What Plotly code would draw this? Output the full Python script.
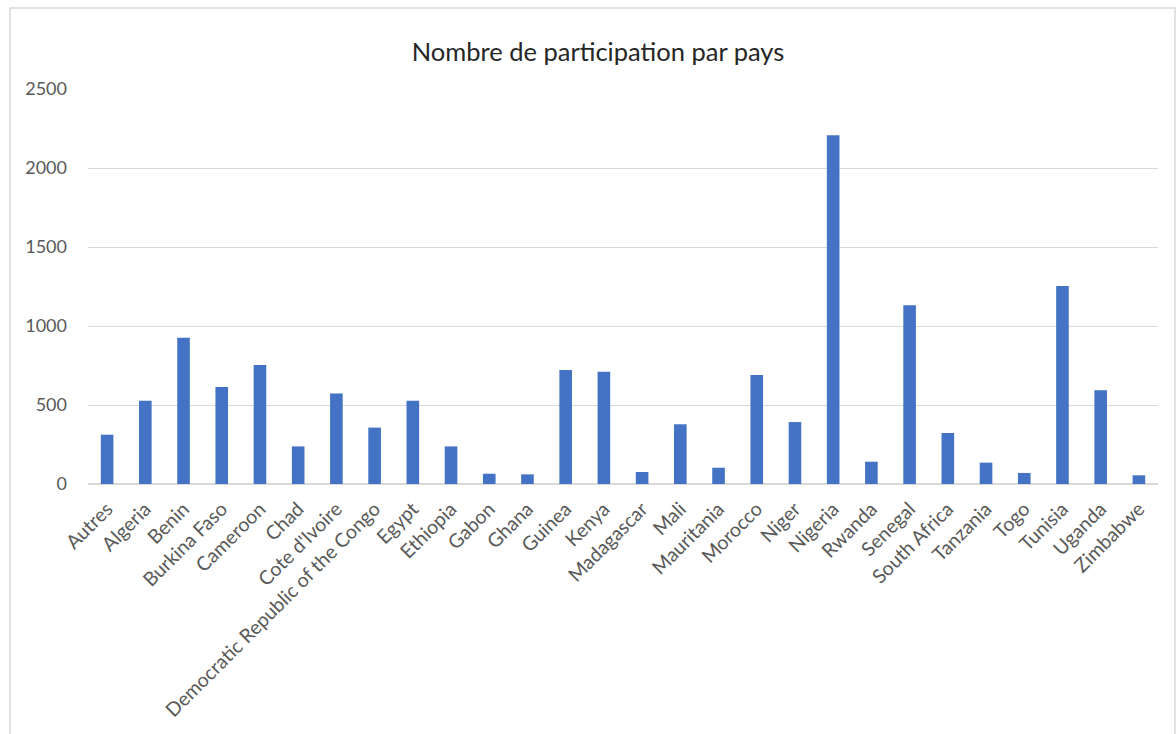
import plotly.graph_objects as go

# Participation counts per country
countries = [
    "Autres", "Algeria", "Benin", "Burkina Faso", "Cameroon", "Chad",
    "Cote d'Ivoire", "Democratic Republic of the Congo", "Egypt", "Ethiopia",
    "Gabon", "Ghana", "Guinea", "Kenya", "Madagascar", "Mali", "Mauritania",
    "Morocco", "Niger", "Nigeria", "Rwanda", "Senegal", "South Africa",
    "Tanzania", "Togo", "Tunisia", "Uganda", "Zimbabwe",
]
participants = [
    312, 527, 926, 614, 753, 238,
    572, 357, 527, 238,
    65, 61, 722, 711, 76, 378, 103,
    690, 392, 2207, 141, 1131, 323,
    135, 70, 1253, 593, 55,
]
y_ticks = [0, 500, 1000, 1500, 2000, 2500]

FONT = "Lato"
AXIS_GREY = "#595959"
GRID = "#d9d9d9"

fig = go.Figure(
    go.Bar(
        x=countries,
        y=participants,
        marker=dict(color="#4472C4", line=dict(width=0)),
        hoverinfo="x+y",
    )
)

fig.update_layout(
    width=1176,
    height=734,
    margin=dict(l=88, r=18, t=89, b=250),
    paper_bgcolor="white",
    plot_bgcolor="white",
    bargap=0.67,
    showlegend=False,
    title=dict(
        text="Nombre de participation par pays",
        x=0.5085,
        xanchor="center",
        y=1 - 52 / 734,
        yanchor="middle",
        font=dict(family=FONT, size=25.5, color="#262626"),
    ),
    font=dict(family=FONT, size=18, color=AXIS_GREY),
)

fig.update_xaxes(
    tickangle=-45,
    showgrid=False,
    showline=True,
    linecolor=GRID,
    linewidth=1,
    ticks="outside",
    ticklen=5,
    tickcolor="rgba(0,0,0,0)",
    tickfont=dict(family=FONT, size=19.5, color=AXIS_GREY),
)

fig.update_yaxes(
    range=[0, 2500],
    tickvals=y_ticks,
    ticktext=[str(v) for v in y_ticks],
    showgrid=True,
    gridcolor=GRID,
    gridwidth=1,
    zeroline=True,
    zerolinecolor=GRID,
    showline=False,
    ticks="",
    ticklabelstandoff=20,
    tickfont=dict(family=FONT, size=18, color=AXIS_GREY),
)

# Light frame around the whole chart area
fig.add_shape(
    type="rect",
    xref="paper", yref="paper",
    x0=(10 - 88) / 1070, x1=(1175 - 88) / 1070,
    y0=(484 - 745) / 395, y1=(484 - 8) / 395,
    line=dict(color="#d9d9d9", width=1.5),
    fillcolor="rgba(0,0,0,0)",
    layer="below",
)

fig.write_html("out.html")
